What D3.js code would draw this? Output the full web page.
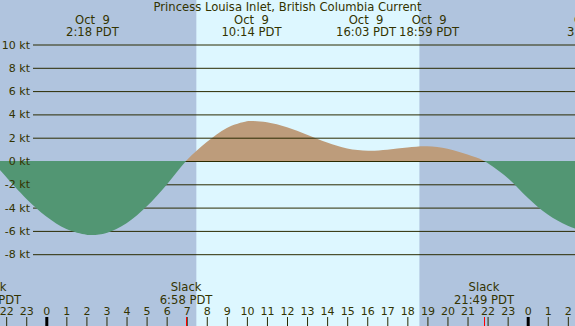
<!DOCTYPE html>
<html>
<head>
<meta charset="utf-8">
<script src="https://cdn.jsdelivr.net/npm/d3@7"></script>
<style>
  body { margin: 0; padding: 0; background: #fff; }
  svg { display: block; font-family: "DejaVu Sans", sans-serif; }
</style>
</head>
<body>
<script>
// hours since midnight Oct 9 (PDT) and current speed in knots (+ flood, - ebb)
const hours  = [-3, -2.3, -2, -1, 0, 1, 2, 2.3, 3, 4, 5, 6, 7, 8, 9, 10, 10.23, 11, 12, 13, 14, 15, 16.05, 17, 18, 18.98, 20, 21, 21.82, 23, 24, 25, 26, 27.27, 28];
const speeds = [0.4, -0.8, -1.38, -3.23, -4.76, -5.83, -6.32, -6.35, -6.17, -5.34, -3.91, -2.03, 0.06, 1.63, 2.84, 3.41, 3.43, 3.32, 2.89, 2.25, 1.58, 1.08, 0.88, 0.97, 1.16, 1.26, 1.06, 0.55, 0, -1.45, -3.15, -4.6, -5.55, -6.2, -6.0];

// max / min current events shown along the top
const eventHours = [2.3, 10.23, 16.05, 18.98, 27.27];
const eventDates = ['Oct  9', 'Oct  9', 'Oct  9', 'Oct  9', 'Oct 10'];
const eventTimes = ['2:18 PDT', '10:14 PDT', '16:03 PDT', '18:59 PDT', '3:16 PDT'];

// slack water events shown along the bottom
const slackHours = [-2.75, 6.97, 21.82];
const slackTimes = ['21:15 PDT', '6:58 PDT', '21:49 PDT'];

// daylight span (sunrise / sunset)
const sunrise = 7.48;
const sunset = 18.6;

const yTicks = [10, 8, 6, 4, 2, 0, -2, -4, -6, -8];
const hourTicks = d3.range(-2, 27);

const width = 575, height = 326;
const title = 'Princess Louisa Inlet, British Columbia Current';
const labelSize = 11.6;

const x = d3.scaleLinear().domain([0, 24]).range([46.3, 527.7]);
const y = d3.scaleLinear().domain([0, 10]).range([161, 44.5]);

const svg = d3.select('body').append('svg')
  .attr('width', width)
  .attr('height', height);

// background: night / day
svg.append('rect')
  .attr('width', width).attr('height', height)
  .attr('fill', '#b0c4de');
svg.append('rect')
  .attr('x', x(sunrise)).attr('y', 0)
  .attr('width', x(sunset) - x(sunrise)).attr('height', height)
  .attr('fill', '#ddf7ff');

const defs = svg.append('defs');
defs.append('clipPath').attr('id', 'above')
  .append('rect').attr('x', 0).attr('y', 0).attr('width', width).attr('height', y(0));
defs.append('clipPath').attr('id', 'below')
  .append('rect').attr('x', 0).attr('y', y(0)).attr('width', width).attr('height', height - y(0));

const data = hours.map((h, i) => [h, speeds[i]]);
const area = d3.area()
  .x(d => x(d[0]))
  .y0(y(0))
  .y1(d => y(d[1]))
  .curve(d3.curveCatmullRom);

// flood (positive) fill
svg.append('path')
  .datum(data)
  .attr('clip-path', 'url(#above)')
  .attr('fill', '#bd9c7b')
  .attr('d', area);

// grid lines
const grid = svg.append('g')
  .attr('transform', 'translate(33,0)')
  .call(d3.axisLeft(y).tickValues(yTicks).tickSize(-(width - 33)).tickFormat(''));
grid.select('.domain').remove();
grid.selectAll('line').attr('stroke', '#2a2a00').attr('stroke-width', 1);

// ebb (negative) fill
svg.append('path')
  .datum(data)
  .attr('clip-path', 'url(#below)')
  .attr('fill', '#529673')
  .attr('d', area);

// y labels
const yAxis = svg.append('g')
  .attr('transform', 'translate(33,0)')
  .call(d3.axisLeft(y).tickValues(yTicks).tickSize(0).tickPadding(3).tickFormat(d => d + ' kt'));
yAxis.select('.domain').remove();
yAxis.selectAll('text')
  .attr('fill', '#333300')
  .style('font-family', '"DejaVu Sans", sans-serif')
  .style('font-size', '11px');

// hour axis at the bottom
const xAxis = svg.append('g')
  .attr('transform', `translate(0,${height})`)
  .call(d3.axisTop(x).tickValues(hourTicks).tickSize(9).tickPadding(2)
    .tickFormat(d => ((d % 24) + 24) % 24));
xAxis.select('.domain').remove();
xAxis.selectAll('line')
  .attr('stroke-width', d => (d % 24 === 0 ? 3 : 1))
  .attr('stroke', d => (d % 24 === 0 ? '#000' : '#2a2a00'));
xAxis.selectAll('text')
  .attr('fill', '#333300')
  .style('font-family', '"DejaVu Sans", sans-serif')
  .style('font-size', '11px');

// slack ticks
svg.append('g').selectAll('line')
  .data(slackHours)
  .join('line')
  .attr('x1', d => Math.round(x(d)) + 0.5).attr('x2', d => Math.round(x(d)) + 0.5)
  .attr('y1', height - 9).attr('y2', height)
  .attr('stroke', '#ff0000')
  .attr('stroke-width', 1);

// slack labels
const slackG = svg.append('g')
  .attr('fill', '#333300')
  .attr('font-size', labelSize)
  .attr('text-anchor', 'middle');
slackG.selectAll('text.s1')
  .data(slackHours)
  .join('text').attr('class', 's1')
  .attr('x', d => x(d)).attr('y', 291)
  .text('Slack');
slackG.selectAll('text.s2')
  .data(slackHours)
  .join('text').attr('class', 's2')
  .attr('x', d => x(d)).attr('y', 304)
  .text((d, i) => slackTimes[i]);

// event labels at the top; neighbours that would touch are pushed apart
const evX = eventHours.map(h => x(h));
const evG = svg.append('g')
  .attr('fill', '#333300')
  .attr('font-size', labelSize)
  .attr('text-anchor', 'middle');
const evT = evG.selectAll('text.t')
  .data(eventHours)
  .join('text').attr('class', 't')
  .attr('x', (d, i) => evX[i]).attr('y', 36)
  .text((d, i) => eventTimes[i]);
const widths = evT.nodes().map(n => n.getComputedTextLength());
for (let i = 1; i < evX.length; i++) {
  const gap = (evX[i] - widths[i] / 2) - (evX[i - 1] + widths[i - 1] / 2);
  if (gap < 3) {
    const push = (3 - gap) / 2;
    evX[i - 1] -= push;
    evX[i] += push;
  }
}
evT.attr('x', (d, i) => evX[i]);
evG.selectAll('text.d')
  .data(eventHours)
  .join('text').attr('class', 'd')
  .attr('x', (d, i) => evX[i]).attr('y', 24)
  .style('white-space', 'pre')
  .text((d, i) => eventDates[i]);

// title
svg.append('text')
  .attr('x', 287.5).attr('y', 11)
  .attr('text-anchor', 'middle')
  .attr('fill', '#333300')
  .attr('font-size', labelSize)
  .text(title);
</script>
</body>
</html>
